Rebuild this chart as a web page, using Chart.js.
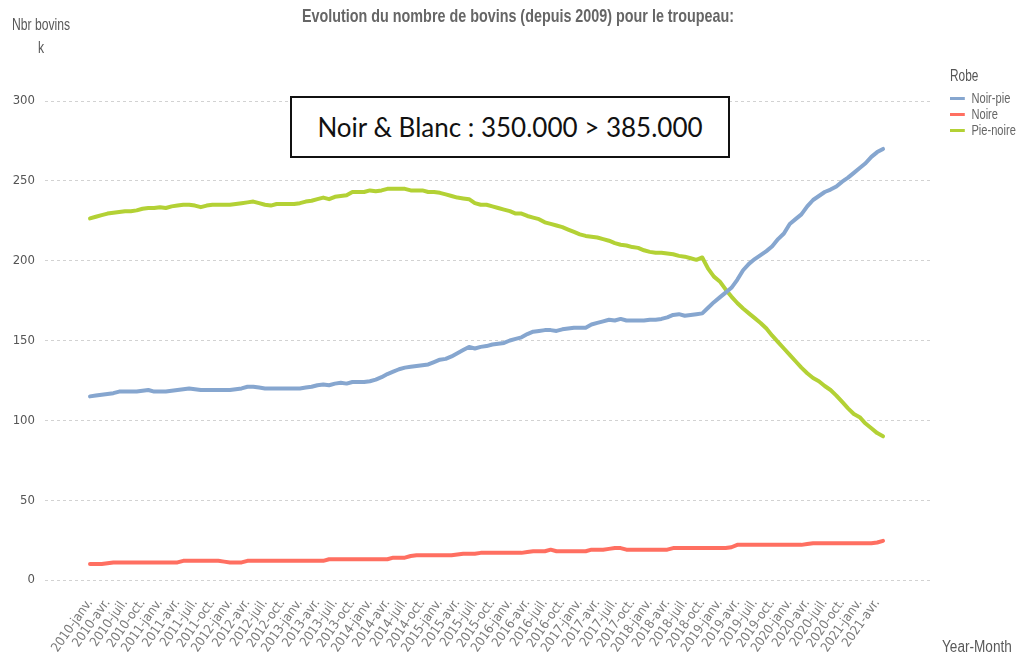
<!DOCTYPE html>
<html lang="fr">
<head>
<meta charset="utf-8">
<script src="https://cdn.jsdelivr.net/npm/chart.js@4.4.1/dist/chart.umd.min.js"></script>
<style>
  html, body { margin: 0; padding: 0; background: #fff; }
  #wrap { position: relative; width: 1020px; height: 660px; font-family: 'Liberation Sans', Arial, sans-serif; color: #595959; }
  #chart { position: absolute; left: 0; top: 0; }
  .lbl { position: absolute; white-space: nowrap; transform-origin: 0 0; }
  #title { left: 302px; top: 5px; font-weight: bold; font-size: 19px; color: #666; transform: scaleX(0.755); }
  #ytitle { left: 12px; top: 13px; font-size: 16px; line-height: 23px; text-align: center; transform: scaleX(0.76); }
  #xtitle { left: 942px; top: 638px; font-size: 16px; transform: scaleX(0.85); }
  #note { left: 290px; top: 96px; width: 436px; height: 58px; border: 2px solid #111; background: #fff;
          font-family: Lato, 'Open Sans', sans-serif; font-size: 26px; color: #111; line-height: 58px; text-align: center; }
  #legend { left: 950px; top: 67px; font-size: 15px; color: #666; transform: scaleX(0.74); }
  #legend .head { font-size: 16px; color: #555; margin-bottom: 5px; }
  #legend .item { height: 16px; line-height: 16px; display: flex; align-items: center; }
  #legend .sw { width: 20px; height: 3px; margin-right: 9px; }
</style>
</head>
<body>
<div id="wrap">
  <canvas id="chart" width="1020" height="660"></canvas>
  <div class="lbl" id="title">Evolution du nombre de bovins (depuis 2009) pour le troupeau:</div>
  <div class="lbl" id="ytitle">Nbr bovins<br>k</div>
  <div class="lbl" id="xtitle">Year-Month</div>
  <div class="lbl" id="legend"><div class="head">Robe</div></div>
  <div class="lbl" id="note">Noir &amp; Blanc : 350.000 &gt; 385.000</div>
</div>
<script>
// months 2010-janv. .. 2021-mai
const years = [2010, 2011, 2012, 2013, 2014, 2015, 2016, 2017, 2018, 2019, 2020, 2021];
const months = ['janv.', 'févr.', 'mars', 'avr.', 'mai', 'juin', 'juil.', 'août', 'sept.', 'oct.', 'nov.', 'déc.'];
const monthLabels = years.flatMap(y => months.map(m => y + '-' + m)).slice(0, 137);

const noirPie = [
  115, 115.5, 116, 116.5, 117, 118, 118, 118, 118, 118.5, 119, 118,
  118, 118, 118.5, 119, 119.5, 120, 119.5, 119, 119, 119, 119, 119,
  119, 119.5, 120, 121, 121, 120.5, 120, 120, 120, 120, 120, 120,
  120, 120.5, 121, 122, 122.5, 122, 123, 123.5, 123, 124, 124, 124,
  124.5, 125.5, 127, 129, 130.5, 132, 133, 133.5, 134, 134.5, 135, 136.5,
  138, 138.5, 140, 142, 144, 146, 145, 146, 146.5, 147.5, 148, 148.5,
  150, 151, 152, 154, 155.5, 156, 156.5, 156.5, 156, 157, 157.5, 158,
  158, 158, 160, 161, 162, 163, 162.5, 163.5, 162.5, 162.5, 162.5, 162.5,
  163, 163, 163.5, 164.5, 166, 166.5, 165.5, 166, 166.5, 167, 170.5, 174,
  177, 180, 183, 188, 194, 198, 201, 203.5, 206, 209, 213.5, 217,
  223, 226, 229, 234, 238, 240.5, 243, 244.5, 246.5, 249.5, 252, 255,
  258, 261, 265, 268, 270
];
const noire = [
  10, 10, 10, 10.5, 11, 11, 11, 11, 11, 11, 11, 11,
  11, 11, 11, 11, 12, 12, 12, 12, 12, 12, 12, 11.5,
  11, 11, 11, 12, 12, 12, 12, 12, 12, 12, 12, 12,
  12, 12, 12, 12, 12, 13, 13, 13, 13, 13, 13, 13,
  13, 13, 13, 13, 14, 14, 14, 15, 15.5, 15.5, 15.5, 15.5,
  15.5, 15.5, 15.5, 16, 16.5, 16.5, 16.5, 17, 17, 17, 17, 17,
  17, 17, 17, 17.5, 18, 18, 18, 19, 18, 18, 18, 18,
  18, 18, 19, 19, 19, 19.5, 20, 20, 19, 19, 19, 19,
  19, 19, 19, 19, 20, 20, 20, 20, 20, 20, 20, 20,
  20, 20, 20.5, 22, 22, 22, 22, 22, 22, 22, 22, 22,
  22, 22, 22, 22.5, 23, 23, 23, 23, 23, 23, 23, 23,
  23, 23, 23, 23.5, 24.5
];
const pieNoire = [
  226.5, 227.5, 228.5, 229.5, 230, 230.5, 231, 231, 231.5, 232.5, 233, 233,
  233.5, 233, 234, 234.5, 235, 235, 234.5, 233.5, 234.5, 235, 235, 235,
  235, 235.5, 236, 236.5, 237, 236, 235, 234.5, 235.5, 235.5, 235.5, 235.5,
  236, 237, 237.5, 238.5, 239.5, 238.5, 240, 240.5, 241, 243, 243, 243,
  244, 243.5, 244, 245, 245, 245, 245, 244, 244, 244, 243, 243,
  242.5, 241.5, 240.5, 239.5, 239, 238.5, 236, 235, 235, 234, 233, 232,
  231, 229.5, 229.5, 228, 227, 226, 224, 223, 222, 221, 219.5, 218,
  216.5, 215.5, 215, 214.5, 213.5, 212.5, 211, 210, 209.5, 208.5, 208, 206.5,
  205.5, 205, 205, 204.5, 204, 203, 202.5, 201.5, 200.5, 202, 195, 190,
  187, 182, 177.5, 173.5, 170, 167, 164, 161, 157.5, 153, 149, 145,
  141, 137, 133, 129.5, 126.5, 124.5, 121.5, 119, 115.5, 111.5, 107.5, 104,
  102, 98, 95, 92, 90
];

const seriesNames = ['Noir-pie', 'Noire', 'Pie-noire'];
const seriesColors = ['#86a6cf', '#ff6f61', '#b3d135'];
const seriesValues = [noirPie, noire, pieNoire];
const yTicks = [0, 50, 100, 150, 200, 250, 300];
const tickIdx = monthLabels.map((l, i) => i).filter(i => i % 3 === 0);

const font = "'DejaVu Sans Condensed', 'Liberation Sans', Arial, sans-serif";

// legend
const legend = document.getElementById('legend');
seriesNames.forEach((name, i) => {
  const row = document.createElement('div');
  row.className = 'item';
  row.innerHTML = `<span class="sw" style="background:${seriesColors[i]}"></span>${name}`;
  legend.appendChild(row);
});

const datasets = seriesNames.map((name, i) => ({
  label: name,
  data: seriesValues[i].map((v, k) => ({ x: k, y: v })),
  borderColor: seriesColors[i],
  borderWidth: 4,
  pointRadius: 0,
  tension: 0,
  borderJoinStyle: 'round',
  borderCapStyle: 'round',
  fill: false
}));

new Chart(document.getElementById('chart').getContext('2d'), {
  type: 'line',
  data: { datasets },
  options: {
    responsive: false,
    animation: false,
    devicePixelRatio: 1,
    layout: { padding: { top: 101, right: 87, left: 0, bottom: 0 } },
    plugins: { legend: { display: false }, tooltip: { enabled: false } },
    scales: {
      x: {
        type: 'linear',
        min: -7.72,
        max: 144.57,
        afterBuildTicks: s => { s.ticks = tickIdx.map(v => ({ value: v })); },
        afterFit: s => { s.height = 80; },
        ticks: {
          autoSkip: false, minRotation: 55, maxRotation: 55, padding: 8,
          color: '#7a7a7a', font: { family: font, size: 13 },
          callback: v => monthLabels[v]
        },
        grid: { display: false },
        border: { display: false }
      },
      y: {
        min: 0,
        max: 300,
        afterBuildTicks: s => { s.ticks = yTicks.map(v => ({ value: v })); },
        afterFit: s => { s.width = 45; },
        ticks: { color: '#555', padding: 10, font: { family: font, size: 13 } },
        grid: { color: '#d2d2d2', drawTicks: false, lineWidth: 1 },
        border: { display: false, dash: [3, 3] }
      }
    }
  }
});
</script>
</body>
</html>
